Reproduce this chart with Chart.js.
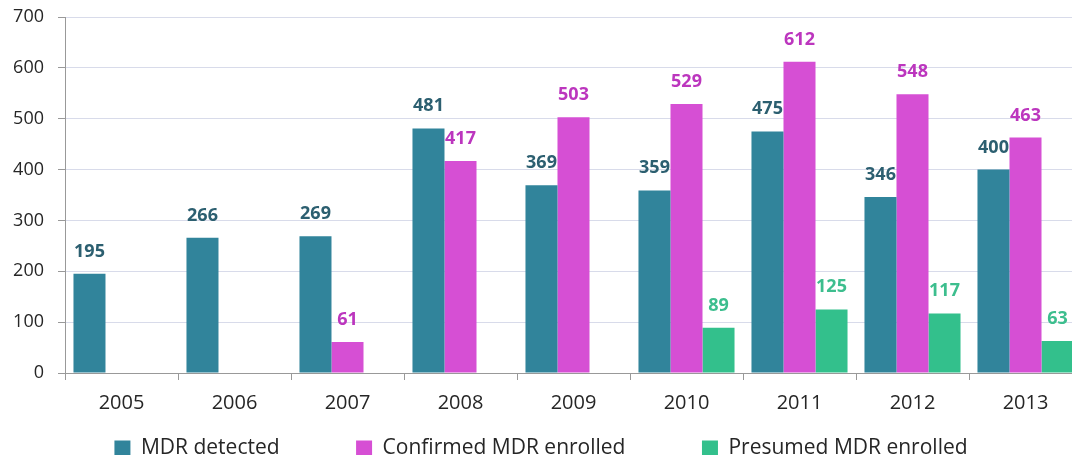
<!DOCTYPE html>
<html>
<head>
<meta charset="utf-8">
<title>MDR detected and enrolled, 2005-2013</title>
<script src="https://cdn.jsdelivr.net/npm/chart.js@4/dist/chart.umd.min.js"></script>
<style>
	html, body { margin: 0; padding: 0; background: #fff; overflow: hidden; }
	#wrap { width: 1092px; height: 455px; }
</style>
</head>
<body>
<div id="wrap"><canvas id="chart" width="1092" height="455"></canvas></div>
<script>
	var years = ['2005', '2006', '2007', '2008', '2009', '2010', '2011', '2012', '2013'];
	var mdrDetected = [195, 266, 269, 481, 369, 359, 475, 346, 400];
	var confirmedEnrolled = [null, null, 61, 417, 503, 529, 612, 548, 463];
	var presumedEnrolled = [null, null, null, null, null, 89, 125, 117, 63];
	var yMax = 700;
	var yStep = 100;

	// value labels above each bar
	var barLabels = {
		id: 'barLabels',
		afterDatasetsDraw: function(chart) {
			var ctx = chart.ctx;
			ctx.save();
			ctx.font = 'bold 18px "Open Sans"';
			ctx.textAlign = 'center';
			ctx.textBaseline = 'alphabetic';
			chart.data.datasets.forEach(function(ds, i) {
				var meta = chart.getDatasetMeta(i);
				meta.data.forEach(function(bar, j) {
					if (ds.data[j] == null) return;
					ctx.fillStyle = ds.labelColor;
					ctx.fillText(ds.data[j], bar.x, bar.y - 17);
				});
			});
			ctx.restore();
		}
	};

	// legend entries with an empty spacer between them, for wider gaps
	function spacedLabels(chart) {
		var items = Chart.defaults.plugins.legend.labels.generateLabels(chart);
		var out = [];
		items.forEach(function(it, i) {
			if (i > 0) {
				out.push({ text: '', fillStyle: 'rgba(0,0,0,0)', strokeStyle: 'rgba(0,0,0,0)', lineWidth: 0, hidden: false, datasetIndex: -1 });
			}
			out.push(it);
		});
		return out;
	}

	var canvas = document.getElementById('chart').getContext('2d');
	window.bar = new Chart(canvas, {
		type: 'bar',
		data: {
			labels: years,
			datasets: [{
				label: 'MDR detected',
				backgroundColor: '#31849B',
				labelColor: '#2C5F70',
				borderWidth: 0,
				data: mdrDetected
			}, {
				label: 'Confirmed MDR enrolled',
				backgroundColor: '#D64FD4',
				labelColor: '#BC36BE',
				borderWidth: 0,
				data: confirmedEnrolled
			}, {
				label: 'Presumed MDR enrolled',
				backgroundColor: '#33C08C',
				labelColor: '#3DBE8E',
				borderWidth: 0,
				data: presumedEnrolled
			}]
		},
		plugins: [barLabels],
		options: {
			responsive: false,
			animation: false,
			categoryPercentage: 0.85,
			barPercentage: 1,
			layout: { padding: { top: 17, right: 10, left: 0, bottom: 0 } },
			plugins: {
				tooltip: { enabled: false },
				legend: {
					position: 'bottom',
					maxHeight: 42,
					labels: {
						font: { family: '"Open Sans"', size: 21 },
						color: '#262626',
						boxWidth: 16,
						boxHeight: 16,
						padding: 25,
						generateLabels: spacedLabels
					}
				}
			},
			scales: {
				x: {
					grid: { drawOnChartArea: false, offset: true, tickLength: 7, tickColor: '#999' },
					border: { color: '#999' },
					ticks: { font: { family: '"Open Sans"', size: 20, lineHeight: 1 }, color: '#262626', padding: 13 },
					afterFit: function(scale) { scale.height = 40; }
				},
				y: {
					min: 0,
					max: yMax,
					grid: { color: '#D8DBEA', tickLength: 7, tickColor: '#999' },
					border: { color: '#999' },
					ticks: { stepSize: yStep, font: { family: '"Open Sans"', size: 18 }, color: '#262626', padding: 14 },
					afterFit: function(scale) {
						scale.width = 65;
						scale.paddingTop = 0;
						scale.paddingBottom = 0;
					}
				}
			}
		}
	});
</script>
</body>
</html>
